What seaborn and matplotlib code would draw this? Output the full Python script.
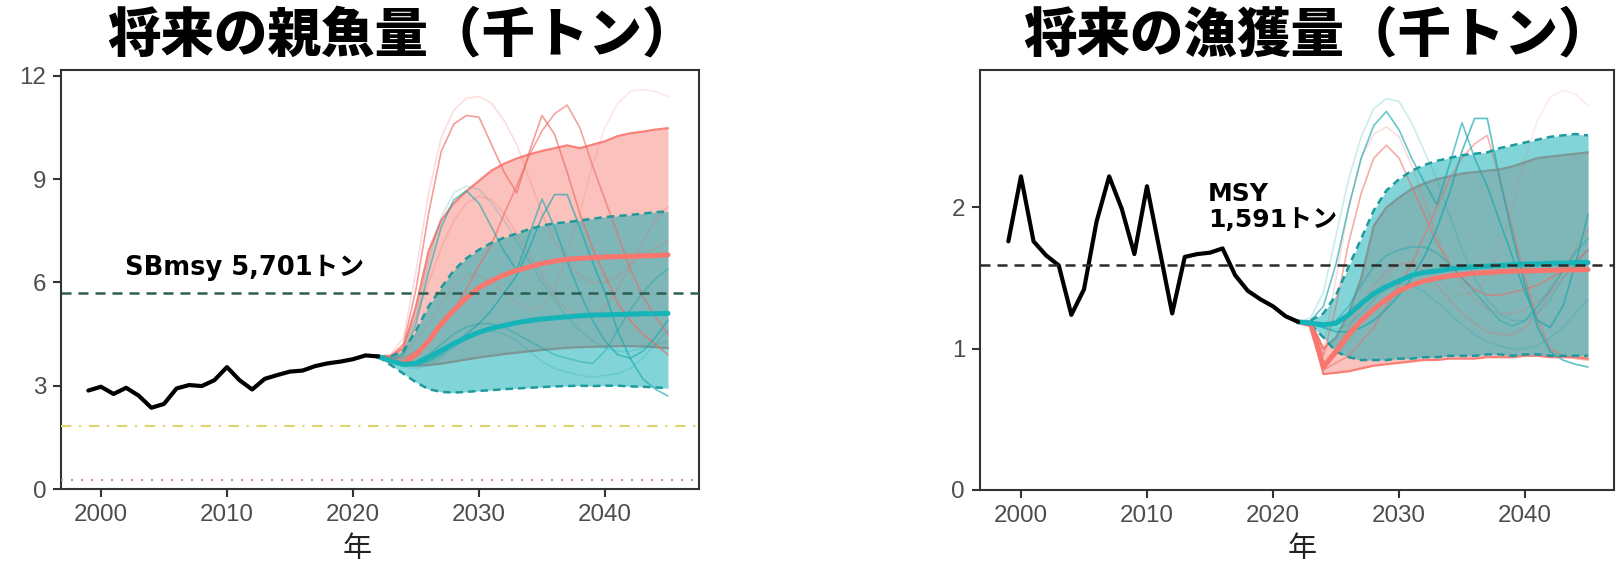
import matplotlib
matplotlib.use("Agg")
import matplotlib.pyplot as plt
import seaborn as sns
import pandas as pd

# ---------------- data ----------------
hist_years = list(range(1999, 2023))
proj_years = list(range(2022, 2046))

ssb_hist = [2.86, 2.97, 2.76, 2.94, 2.71, 2.36, 2.47, 2.92, 3.02, 2.99, 3.16, 3.54,
            3.16, 2.89, 3.20, 3.31, 3.41, 3.44, 3.57, 3.65, 3.70, 3.77, 3.88, 3.85]
catch_hist = [1.76, 2.22, 1.76, 1.66, 1.59, 1.24, 1.42, 1.90, 2.22, 1.99, 1.67, 2.15,
              1.70, 1.25, 1.65, 1.67, 1.68, 1.71, 1.52, 1.41, 1.35, 1.30, 1.23, 1.19]

# SSB projections (2022-2045)
ssb_red_med = [3.85, 3.72, 3.65, 3.9, 4.3, 4.8, 5.2, 5.55, 5.85, 6.05, 6.22, 6.35,
               6.45, 6.55, 6.62, 6.67, 6.7, 6.72, 6.74, 6.75, 6.76, 6.77, 6.78, 6.8]
ssb_red_hi = [3.85, 3.85, 4.1, 5.3, 6.9, 7.8, 8.3, 8.65, 8.95, 9.25, 9.45, 9.6,
              9.72, 9.82, 9.9, 9.98, 9.9, 10.0, 10.1, 10.25, 10.33, 10.38, 10.44, 10.48]
ssb_red_lo = [3.85, 3.7, 3.6, 3.58, 3.6, 3.64, 3.7, 3.76, 3.82, 3.87, 3.92, 3.96,
              4.0, 4.04, 4.07, 4.1, 4.12, 4.13, 4.14, 4.15, 4.15, 4.14, 4.12, 4.09]
ssb_teal_med = [3.85, 3.72, 3.62, 3.65, 3.82, 4.02, 4.22, 4.4, 4.55, 4.67, 4.75, 4.83,
                4.89, 4.94, 4.97, 5.0, 5.03, 5.05, 5.06, 5.07, 5.08, 5.09, 5.09, 5.1]
ssb_teal_hi = [3.85, 3.85, 4.0, 4.6, 5.3, 5.85, 6.35, 6.7, 6.95, 7.15, 7.3, 7.42,
               7.55, 7.65, 7.72, 7.75, 7.8, 7.85, 7.9, 7.93, 7.96, 8.0, 8.04, 8.06]
ssb_teal_lo = [3.85, 3.6, 3.35, 3.1, 2.9, 2.82, 2.8, 2.82, 2.85, 2.87, 2.9, 2.92,
               2.94, 2.96, 2.98, 2.99, 3.0, 2.99, 3.0, 3.0, 2.98, 2.97, 2.95, 2.93]

ssb_red_runs = [
    [3.85, 3.9, 4.4, 6.3, 8.6, 10.2, 11.0, 11.35, 11.4, 11.2, 10.7, 10.0,
     9.0, 8.0, 7.2, 6.6, 6.2, 6.0, 6.0, 6.2, 6.5, 6.8, 7.0, 7.2],
    [3.85, 3.85, 4.2, 5.8, 8.0, 9.8, 10.6, 10.85, 10.8, 10.0, 9.2, 8.6,
     9.8, 10.85, 10.3, 9.2, 8.0, 7.0, 6.2, 5.4, 4.9, 4.5, 4.2, 3.9],
    [3.85, 3.8, 3.8, 4.0, 4.3, 4.7, 5.2, 5.8, 6.5, 7.1, 8.0, 8.8,
     9.7, 10.4, 10.9, 11.15, 10.5, 9.4, 8.4, 7.4, 6.4, 5.6, 5.0, 4.5],
    [3.85, 3.8, 3.9, 4.3, 4.8, 5.4, 5.9, 6.2, 6.2, 6.0, 5.7, 5.4,
     5.2, 5.3, 5.8, 6.8, 8.0, 9.4, 10.5, 11.2, 11.55, 11.6, 11.55, 11.4],
    [3.85, 3.9, 4.2, 5.0, 6.0, 7.0, 7.8, 8.3, 8.5, 8.4, 8.0, 7.4,
     6.8, 6.2, 5.6, 5.2, 5.0, 5.0, 5.3, 5.8, 6.5, 7.2, 7.8, 8.2],
]
ssb_red_alpha = [0.22, 0.65, 0.6, 0.15, 0.22]

ssb_teal_runs = [
    [3.85, 3.75, 3.9, 4.8, 6.3, 7.6, 8.4, 8.66, 8.3, 7.6, 6.9, 6.35,
     7.4, 8.42, 7.6, 6.6, 5.7, 4.9, 4.3, 3.9, 3.8, 4.0, 4.4, 4.9],
    [3.85, 3.7, 3.6, 3.6, 3.7, 3.9, 4.2, 4.5, 4.8, 5.2, 5.7, 6.2,
     7.0, 7.9, 8.55, 8.55, 7.6, 6.6, 5.7, 4.6, 3.8, 3.2, 2.9, 2.7],
    [3.85, 3.8, 4.0, 5.0, 6.6, 7.9, 8.6, 8.8, 8.7, 8.3, 7.8, 7.2,
     6.6, 6.0, 5.5, 5.0, 4.6, 4.3, 4.1, 4.0, 4.0, 4.1, 4.2, 4.3],
    [3.85, 3.7, 3.6, 3.7, 3.9, 4.2, 4.5, 4.7, 4.8, 4.8, 4.7, 4.5,
     4.3, 4.1, 3.9, 3.8, 3.7, 3.65, 4.0, 4.6, 5.2, 5.7, 6.1, 6.4],
    [3.85, 3.7, 3.55, 3.5, 3.6, 3.8, 4.1, 4.4, 4.6, 4.6, 4.5, 4.3,
     4.0, 3.7, 3.5, 3.4, 3.3, 3.25, 3.3, 3.35, 3.5, 3.8, 4.2, 4.6],
]
ssb_teal_alpha = [0.6, 0.65, 0.22, 0.45, 0.22]

# Catch projections (2022-2045)
catch_red_med = [1.19, 1.17, 0.87, 0.98, 1.1, 1.2, 1.28, 1.35, 1.41, 1.45, 1.48, 1.5,
                 1.515, 1.525, 1.535, 1.54, 1.545, 1.55, 1.55, 1.553, 1.555, 1.557, 1.558, 1.56]
catch_red_hi = [1.19, 1.19, 1.0, 1.08, 1.25, 1.5, 1.87, 2.0, 2.07, 2.13, 2.17, 2.2,
                2.22, 2.24, 2.25, 2.26, 2.27, 2.29, 2.32, 2.35, 2.36, 2.37, 2.38, 2.39]
catch_red_lo = [1.19, 1.19, 0.82, 0.83, 0.84, 0.86, 0.88, 0.89, 0.9, 0.91, 0.92, 0.92,
                0.93, 0.93, 0.93, 0.94, 0.94, 0.94, 0.95, 0.95, 0.94, 0.94, 0.94, 0.93]
catch_teal_med = [1.19, 1.18, 1.17, 1.18, 1.24, 1.32, 1.39, 1.44, 1.48, 1.52, 1.54, 1.55,
                  1.565, 1.575, 1.58, 1.585, 1.59, 1.595, 1.6, 1.6, 1.605, 1.605, 1.61, 1.61]
catch_teal_hi = [1.19, 1.2, 1.25, 1.38, 1.58, 1.78, 1.98, 2.12, 2.2, 2.26, 2.3, 2.33,
                 2.35, 2.37, 2.38, 2.39, 2.42, 2.44, 2.46, 2.48, 2.5, 2.51, 2.52, 2.51]
catch_teal_lo = [1.19, 1.17, 1.08, 0.98, 0.94, 0.92, 0.92, 0.92, 0.93, 0.93, 0.94, 0.94,
                 0.95, 0.95, 0.95, 0.96, 0.96, 0.95, 0.96, 0.96, 0.95, 0.95, 0.95, 0.95]

catch_red_runs = [
    [1.19, 1.19, 0.95, 1.3, 1.75, 2.1, 2.35, 2.44, 2.35, 2.15, 1.95, 1.75,
     1.6, 1.5, 1.42, 1.38, 1.38, 1.4, 1.42, 1.45, 1.5, 1.55, 1.62, 1.7],
    [1.19, 1.19, 1.0, 1.5, 2.0, 2.35, 2.52, 2.57, 2.5, 2.3, 2.05, 1.8,
     1.6, 1.45, 1.35, 1.28, 1.25, 1.25, 1.28, 1.33, 1.4, 1.5, 1.6, 1.7],
    [1.19, 1.19, 0.85, 0.9, 0.95, 1.05, 1.15, 1.3, 1.45, 1.6, 1.8, 2.0,
     2.2, 2.35, 2.45, 2.51, 2.2, 1.85, 1.5, 1.2, 1.0, 0.95, 0.93, 0.92],
    [1.19, 1.19, 0.88, 0.95, 1.05, 1.2, 1.35, 1.5, 1.6, 1.62, 1.58, 1.5,
     1.42, 1.38, 1.4, 1.5, 1.7, 2.0, 2.35, 2.62, 2.78, 2.83, 2.8, 2.72],
    [1.19, 1.19, 0.9, 1.0, 1.15, 1.3, 1.45, 1.55, 1.6, 1.6, 1.55, 1.45,
     1.35, 1.25, 1.18, 1.12, 1.1, 1.1, 1.15, 1.25, 1.4, 1.55, 1.7, 1.85],
]
catch_red_alpha = [0.55, 0.22, 0.5, 0.13, 0.28]

catch_teal_runs = [
    [1.19, 1.2, 1.3, 1.6, 2.0, 2.35, 2.58, 2.68, 2.55, 2.35, 2.18, 2.02,
     2.3, 2.6, 2.35, 2.15, 1.9, 1.65, 1.4, 1.2, 1.15, 1.3, 1.6, 1.95],
    [1.19, 1.18, 1.15, 1.12, 1.12, 1.15, 1.2, 1.28, 1.38, 1.5, 1.65, 1.85,
     2.1, 2.4, 2.63, 2.63, 2.2, 1.8, 1.45, 1.15, 0.98, 0.92, 0.89, 0.87],
    [1.19, 1.22, 1.4, 1.8, 2.2, 2.5, 2.7, 2.77, 2.75, 2.6, 2.4, 2.2,
     1.95, 1.7, 1.5, 1.35, 1.25, 1.2, 1.2, 1.25, 1.35, 1.5, 1.6, 1.7],
    [1.19, 1.18, 1.16, 1.2, 1.3, 1.45, 1.58, 1.66, 1.7, 1.72, 1.72, 1.68,
     1.6, 1.5, 1.4, 1.3, 1.2, 1.16, 1.2, 1.3, 1.42, 1.55, 1.68, 1.78],
    [1.19, 1.17, 1.15, 1.14, 1.17, 1.25, 1.35, 1.42, 1.46, 1.45, 1.4, 1.33,
     1.25, 1.17, 1.1, 1.05, 1.02, 1.0, 1.0, 1.02, 1.08, 1.15, 1.25, 1.35],
]
catch_teal_alpha = [0.65, 0.7, 0.22, 0.45, 0.22]

sb_msy = 5.701
sb_limit = 1.83
sb_ban = 0.26
msy = 1.591

titles = ["将来の親魚量（千トン）", "将来の漁獲量（千トン）"]
xlabel = "年"
sb_label = "SBmsy 5,701トン"
msy_label = "MSY\n1,591トン"
x_ticks = [2000, 2010, 2020, 2030, 2040]
ssb_yticks = [0, 3, 6, 9, 12]
catch_yticks = [0, 1, 2]

# ---------------- style ----------------
sns.set_theme(style="white")
plt.rcParams["font.family"] = ["Liberation Sans", "Noto Sans CJK JP"]

RED = "#F8766D"
TEAL = "#00BFC4"
TEAL_FILL = "#04ADB3"
DASH_TEAL = "#1E9A9D"
DPI = 100
W, H = 1616, 561

fig = plt.figure(figsize=(W / DPI, H / DPI), dpi=DPI)
fig.patch.set_facecolor("white")

ax1 = fig.add_axes([61 / W, 72 / H, 638 / W, 419 / H])
ax2 = fig.add_axes([980 / W, 71 / H, 634 / W, 420 / H])


def draw_panel(ax, hist, red_med, red_lo, red_hi, teal_med, teal_lo, teal_hi,
               red_runs, red_alpha, teal_runs, teal_alpha):
    ax.fill_between(proj_years, red_lo, red_hi, color=RED, alpha=0.45, lw=0, zorder=1)
    sns.lineplot(x=proj_years, y=red_hi, ax=ax, color=RED, lw=1.6, alpha=0.9, zorder=1.5)
    sns.lineplot(x=proj_years, y=red_lo, ax=ax, color=RED, lw=1.6, alpha=0.9, zorder=1.5)
    ax.fill_between(proj_years, teal_lo, teal_hi, color=TEAL_FILL, alpha=0.5, lw=0, zorder=2)
    for run, a in zip(red_runs, red_alpha):
        sns.lineplot(x=proj_years, y=run, ax=ax, color="#EE6A62", lw=1.2, alpha=a, zorder=3)
    for run, a in zip(teal_runs, teal_alpha):
        sns.lineplot(x=proj_years, y=run, ax=ax, color="#19A8AC", lw=1.2, alpha=a, zorder=3)
    sns.lineplot(x=proj_years, y=teal_hi, ax=ax, color=DASH_TEAL, lw=1.8, zorder=4,
                 dashes=False).lines[-1].set_dashes((3, 2))
    sns.lineplot(x=proj_years, y=teal_lo, ax=ax, color=DASH_TEAL, lw=1.8, zorder=4,
                 dashes=False).lines[-1].set_dashes((3, 2))
    sns.lineplot(x=proj_years, y=red_med, ax=ax, color=RED, lw=3.6, zorder=5)
    sns.lineplot(x=proj_years, y=teal_med, ax=ax, color="#14B4B8", lw=3.6, zorder=6)
    sns.lineplot(x=hist_years, y=hist, ax=ax, color="black", lw=3.0, zorder=7)


draw_panel(ax1, ssb_hist, ssb_red_med, ssb_red_lo, ssb_red_hi, ssb_teal_med,
           ssb_teal_lo, ssb_teal_hi, ssb_red_runs, ssb_red_alpha,
           ssb_teal_runs, ssb_teal_alpha)
draw_panel(ax2, catch_hist, catch_red_med, catch_red_lo, catch_red_hi, catch_teal_med,
           catch_teal_lo, catch_teal_hi, catch_red_runs, catch_red_alpha,
           catch_teal_runs, catch_teal_alpha)

# reference lines
ax1.axhline(sb_msy, color="#2F5D52", lw=1.8, dashes=(4, 2.8), zorder=8)
ax1.axhline(sb_limit, color="#E0D36E", lw=1.5, dashes=(5, 3.7, 1, 3.7), zorder=8)
ax1.axhline(sb_ban, color="#CF8E9E", lw=1.5, dashes=(1, 3.8), zorder=8)
ax2.axhline(msy, color="#2B2B2B", lw=1.8, dashes=(4, 2.8), zorder=8)

ax1.set_xlim(1996.83, 2047.46)
ax2.set_xlim(1996.75, 2047.06)
ax1.set_ylim(0, 12.17)
ax2.set_ylim(0, 2.973)
ax1.set_yticks(ssb_yticks)
ax2.set_yticks(catch_yticks)

for ax in (ax1, ax2):
    ax.set_xticks(x_ticks)
    ax.set_xlabel("")
    ax.set_ylabel("")
    for s in ax.spines.values():
        s.set_color("#333333")
        s.set_linewidth(1.5)
        s.set_visible(True)
    ax.tick_params(axis="both", which="major", direction="out", length=5.8, width=1.5,
                   color="#333333", labelcolor="#4D4D4D", labelsize=17.4, pad=5,
                   bottom=True, left=True)
    for lab in ax.get_xticklabels() + ax.get_yticklabels():
        lab.set_family("Liberation Sans")
        lab.set_fontsize(17.4)
    ax.grid(False)
    ax.set_facecolor("white")

# annotations
ax1.text((125 - 61) / 638, 1 - (268 - 70) / 419, sb_label, transform=ax1.transAxes,
         fontsize=18.5, fontweight="bold", color="black", va="center", ha="left",
         family=["DejaVu Sans", "Noto Sans CJK JP"], zorder=10)
ax2.text((1208 - 980) / 634, 1 - (207 - 70) / 420, msy_label, transform=ax2.transAxes,
         fontsize=18, fontweight="bold", color="black", va="center", ha="left",
         linespacing=1.15, family=["DejaVu Sans", "Noto Sans CJK JP"], zorder=10)

# titles
fig.text(401 / W, 1 - 36 / H, titles[0], ha="center", va="center", fontsize=38.5,
         fontweight="heavy", family=["Noto Sans CJK JP"], color="black")
fig.text(1317 / W, 1 - 36 / H, titles[1], ha="center", va="center", fontsize=38.5,
         fontweight="heavy", family=["Noto Sans CJK JP"], color="black")

# x labels
fig.text(357 / W, 1 - 534 / H, xlabel, ha="center", va="top", fontsize=21,
         family=["Noto Sans CJK JP"], color="#222222")
fig.text(1302 / W, 1 - 534 / H, xlabel, ha="center", va="top", fontsize=21,
         family=["Noto Sans CJK JP"], color="#222222")

fig.savefig("out.png", dpi=DPI, facecolor="white")
